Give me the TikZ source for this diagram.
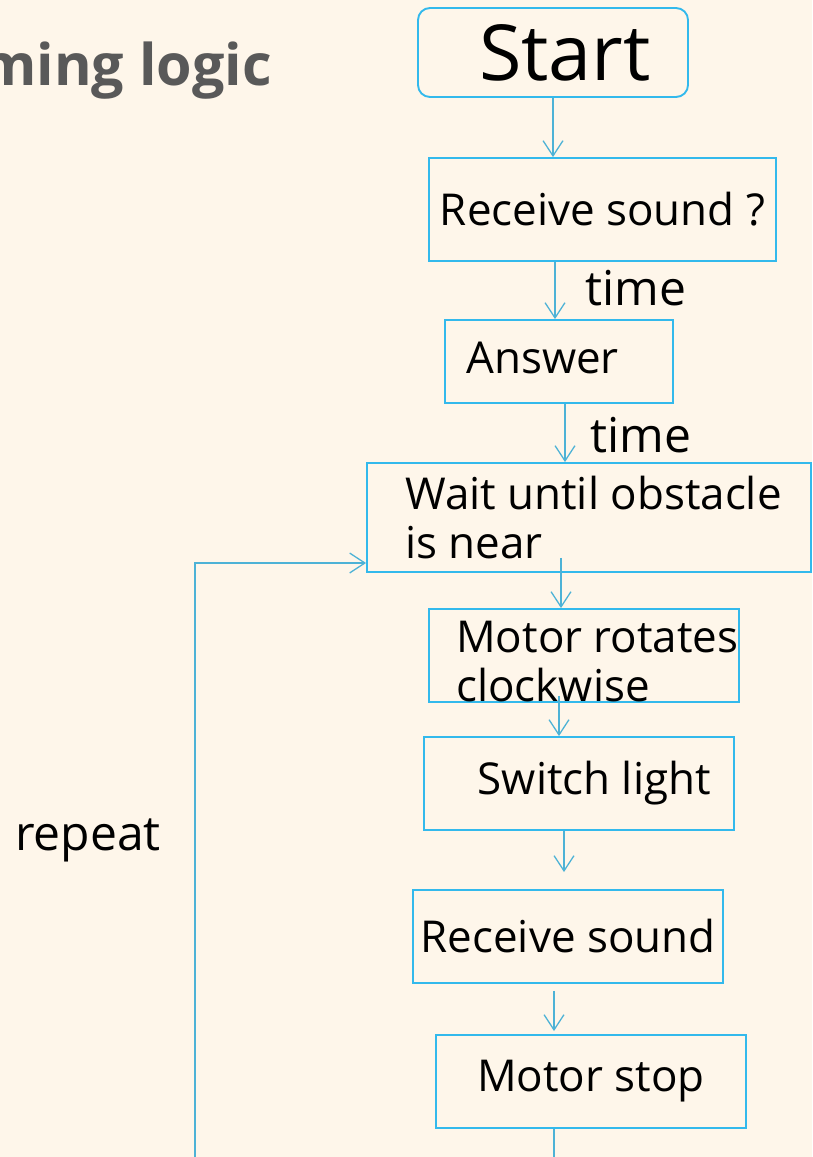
\documentclass[tikz,border=0pt]{standalone}
\usepackage{fontspec}
\setmainfont{Open Sans}
\usetikzlibrary{arrows.meta,positioning,calc}
\definecolor{flBack}{HTML}{FEF6EA}
\definecolor{flCyan}{HTML}{33B9EC}
\definecolor{flLine}{HTML}{4DB2D6}
\definecolor{flGray}{HTML}{595959}
\newcommand{\flfont}{\fontsize{37.5}{42}\selectfont}
\newcommand{\flbig}{\fontsize{66}{70}\selectfont}

\begin{document}
\begin{tikzpicture}[x=0.03cm,y=-0.03cm,
  flbox/.style={draw=flCyan,line width=1.6pt,inner sep=0pt,font=\flfont},
  flword/.style={inner sep=0pt,font=\flfont,align=left},
  flline/.style={draw=flLine,line width=1.1pt},
  flarrow/.style={flline,-{Straight Barb[length=13pt,width=17pt,line width=1.1pt]}}]
  \fill[flBack] (0,0) rectangle (812,1157);
  \useasboundingbox (0,0) rectangle (812,1157);

  % title, cut at the left edge
  \node[inner sep=0pt,anchor=base east,text=flGray,
    font=\fontsize{49}{52}\selectfont\bfseries] (title) at (272,86) {ming logic};

  % flow boxes
  \node[flbox,rounded corners=0.36cm,minimum width=8.10cm,minimum height=2.67cm,
    label={[flword,font=\flbig,xshift=0.36cm]center:Start}] (start) at (553,52.5) {};
  \node[flbox,minimum width=10.41cm,minimum height=3.09cm]
    (recv1) at (602.5,209.5) {Receive sound ?};
  \node[flbox,minimum width=6.84cm,minimum height=2.49cm,
    label={[flword,anchor=west,xshift=0.66cm,yshift=0.12cm]west:Answer}]
    (answer) at (559,361.5) {};
  \node[flbox,minimum width=13.32cm,minimum height=3.27cm,
    label={[flword,anchor=west,xshift=1.17cm]west:{Wait until obstacle\\is near}}]
    (wait) at (589,517.5) {};
  \node[flbox,minimum width=9.30cm,minimum height=2.79cm,
    label={[flword,anchor=west,xshift=0.84cm,yshift=-0.17cm]west:{Motor rotates\\clockwise}}]
    (rot) at (584,655.5) {};
  \node[flbox,minimum width=9.30cm,minimum height=2.79cm,
    label={[flword,anchor=east,xshift=-0.72cm]east:Switch light}]
    (switch) at (579,783.5) {};
  \node[flbox,minimum width=9.30cm,minimum height=2.79cm]
    (recv2) at (568,936.5) {Receive sound};
  \node[flbox,minimum width=9.30cm,minimum height=2.79cm]
    (stop) at (591,1081.5) {Motor stop};

  % side texts
  \node[flword,font=\fontsize{41}{44}\selectfont,anchor=base west] (time1) at (585,305) {time};
  \node[flword,font=\fontsize{41}{44}\selectfont,anchor=base west] (time2) at (590,452) {time};
  \node[flword,font=\fontsize{41}{44}\selectfont,anchor=base west] (repeat) at (15,850) {repeat};

  % connectors
  \draw[flarrow] (start.south) -- (start.south |- recv1.north);
  \draw[flarrow] ($(recv1.south -| answer.north)+(-4,0)$) -- ($(answer.north)+(-4,0)$);
  \draw[flarrow] ($(answer.south)+(6,0)$) -- ($(wait.north -| answer.south)+(6,0)$);
  \draw[flarrow] ($(wait.south -| rot.north)+(-23,-15)$) -- ($(rot.north)+(-23,0)$);
  \draw[flarrow] ($(rot.south -| switch.north)+(-20,-7)$) -- ($(switch.north)+(-20,0)$);
  \draw[flarrow] ($(switch.south)+(-15,0)$) -- ($(recv2.north -| switch.south)+(-15,-17)$);
  \draw[flarrow] ($(recv2.south)+(-14,7)$) -- ($(stop.north -| recv2.south)+(-14,-3)$);

  % loop back
  \coordinate (stopend) at (554,1157);
  \coordinate (loopend) at (195,1157);
  \draw[flline] (stop.south -| stopend) -- (stopend);
  \draw[flarrow] (loopend) |- ($(wait.west)+(0,45.5)$);
\end{tikzpicture}
\end{document}
